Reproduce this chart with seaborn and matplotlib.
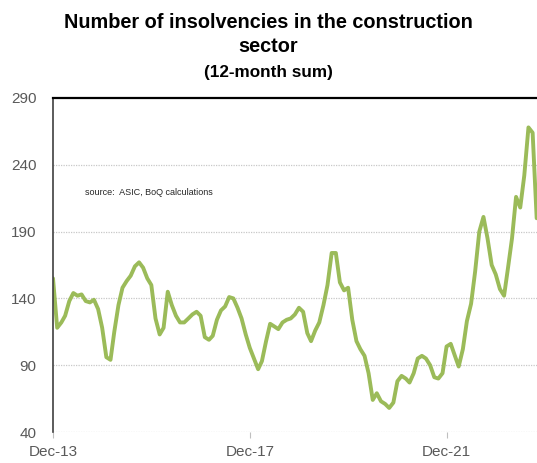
# Number of insolvencies in the construction sector, 12-month sum
import matplotlib
matplotlib.use("Agg")
import matplotlib.pyplot as plt
import seaborn as sns
import pandas as pd

# monthly values, Dec-13 onwards
months = pd.date_range("2013-12-01", periods=119, freq="MS")
insolvencies = [
    155, 118, 122, 127, 138, 144, 142, 143, 138, 137, 139, 132,
    118, 96, 94, 115, 135, 148, 153, 157, 164, 167, 163, 155,
    150, 125, 113, 118, 145, 135, 127, 122, 122, 125, 128, 130,
    127, 111, 109, 112, 124, 131, 134, 141, 140, 133, 125, 113,
    103, 95, 87, 93, 108, 121, 119, 117, 122, 124, 125, 128,
    133, 130, 114, 108, 116, 122, 135, 150, 174, 174, 152, 146,
    148, 124, 108, 102, 97, 84, 64, 69, 63, 61, 58, 62,
    78, 82, 80, 77, 84, 95, 97, 95, 90, 81, 80, 84,
    104, 106, 97, 89, 102, 123, 136, 160, 190, 201, 185, 165,
    158, 147, 142, 162, 185, 216, 208, 232, 268, 264, 200,
]
tick_dates = ["2013-12-01", "2017-12-01", "2021-12-01"]
tick_labels = ["Dec-13", "Dec-17", "Dec-21"]
y_ticks = [40, 90, 140, 190, 240, 290]

df = pd.DataFrame({"month": months, "insolvencies": insolvencies})

sns.set_style("white")
plt.rcParams["font.family"] = ["Liberation Sans Narrow", "Liberation Sans", "DejaVu Sans"]

fig = plt.figure(figsize=(5.37, 4.63), dpi=100)
ax = fig.add_axes([53 / 537, 31 / 463, 484 / 537, 334 / 463])

sns.lineplot(data=df, x="month", y="insolvencies", ax=ax,
             color="#9bbb59", linewidth=2.8)

ax.set_ylim(40, 290)
ax.set_yticks(y_ticks)
ax.set_xlim(months[0], months[0] + pd.Timedelta(days=118.05 * 30.44))
ax.set_xticks(pd.to_datetime(tick_dates))
ax.set_xticklabels(tick_labels)
ax.set_xlabel("")
ax.set_ylabel("")

# dotted gridlines
for v in y_ticks[:-1]:
    ax.axhline(v, color="#c8c8c8", linewidth=0.9, linestyle=(0, (1, 1)), zorder=0)

ax.spines["top"].set_color("black")
ax.spines["top"].set_linewidth(1.6)
ax.spines["left"].set_color("#404040")
ax.spines["left"].set_linewidth(1.2)
ax.spines["right"].set_visible(False)
ax.spines["bottom"].set_visible(False)

ax.tick_params(axis="y", length=0, pad=12, labelsize=11, labelcolor="#595959")
ax.tick_params(axis="x", bottom=True, direction="out", length=4, width=0.8,
               color="#bfbfbf", pad=5, labelsize=11, labelcolor="#595959")

ax.text(0.066, 0.716, "source:  ASIC, BoQ calculations", transform=ax.transAxes,
        fontsize=6.5, color="#262626", va="center", ha="left")

fig.text(0.5, 0.972, "Number of insolvencies in the construction\nsector",
         ha="center", va="top", fontsize=14.3, fontweight="bold",
         linespacing=1.35, color="black")
fig.text(0.5, 0.86, "(12-month sum)", ha="center", va="top",
         fontsize=12.3, fontweight="bold", color="black")

fig.savefig("out.png", dpi=100)
